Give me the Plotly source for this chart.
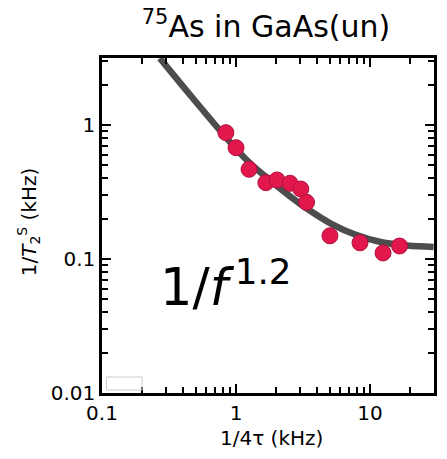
import plotly.graph_objects as go

# measured data (1/4tau in kHz, 1/T2^S in kHz)
freq_khz = [0.84, 1.00, 1.25, 1.67, 2.02, 2.53, 3.04, 3.36, 5.02, 8.41, 12.5, 16.6]
rate_khz = [0.877, 0.677, 0.467, 0.371, 0.389, 0.367, 0.333, 0.265, 0.149, 0.132, 0.111, 0.125]

# fitted 1/f^1.2 curve
fit_x = [0.270, 0.402, 0.564, 0.793, 1.18, 1.66, 2.46, 3.46, 5.14, 7.64, 12.0, 18.9, 29.8]
fit_y = [3.15, 1.94, 1.294, 0.865, 0.558, 0.412, 0.300, 0.234, 0.183, 0.153, 0.134, 0.126, 0.123]

x_minor = [m * d for d in (0.1, 1, 10) for m in range(2, 10)]
y_minor = [m * d for d in (0.01, 0.1, 1) for m in range(2, 10)]

FONT = "DejaVu Sans"

fig = go.Figure()
fig.add_trace(go.Scatter(x=fit_x, y=fit_y, mode="lines", line=dict(color="#4d4d4d", width=6.5, shape="spline"),
                         showlegend=False, hoverinfo="skip"))
fig.add_trace(go.Scatter(x=freq_khz, y=rate_khz, mode="markers",
                         marker=dict(size=16, color="#E2184C", line=dict(color="#B01040", width=1)),
                         showlegend=False))

axis_common = dict(
    type="log", dtick=1, tickformat="~g",
    showline=True, linecolor="black", linewidth=2.5, mirror="ticks",
    ticks="inside", ticklen=9, tickwidth=2, tickcolor="black",
    gridcolor="rgba(0,0,0,0)",
    tickfont=dict(family=FONT, size=20, color="black"),
)

fig.update_layout(
    xaxis=dict(range=[-1, 1.477],
               minor=dict(tickvals=x_minor, ticks="inside", ticklen=6, tickwidth=2, tickcolor="black"),
               **axis_common),
    yaxis=dict(range=[-2, 0.5],
               minor=dict(tickvals=y_minor, ticks="inside", ticklen=6, tickwidth=2, tickcolor="black"),
               **axis_common),
    width=447, height=459,
    margin=dict(l=101.5, r=10, t=58, b=66),
    plot_bgcolor="white", paper_bgcolor="white",
    title=dict(text="<sup>75</sup>As in GaAs(un)", x=0.595, xanchor="center", y=1 - 26 / 459, yanchor="middle",
               font=dict(family=FONT, size=30, color="black")),
    annotations=[
        dict(text="1/4τ (kHz)", xref="paper", yref="paper", x=(273 - 101.5) / 335.5, y=-(438 - 393) / 335,
             xanchor="center", yanchor="middle", showarrow=False, font=dict(family=FONT, size=20, color="black")),
        dict(text="1/<i>T</i><sub>2</sub><sup>S</sup> (kHz)", xref="paper", yref="paper",
             x=-(101.5 - 28) / 335.5, y=(393 - 222) / 335, textangle=-90,
             xanchor="center", yanchor="middle", showarrow=False, font=dict(family=FONT, size=20, color="black")),
        dict(text="1/<i>f</i><sup>\u20091.2</sup>", xref="paper", yref="paper",
             x=(158 - 101.5) / 335.5, y=(393 - 284) / 335, xanchor="left", yanchor="middle",
             showarrow=False, font=dict(family=FONT, size=51, color="black")),
    ],
    shapes=[
        dict(type="rect", xref="paper", yref="paper",
             x0=(106 - 101.5) / 335.5, x1=(142 - 101.5) / 335.5,
             y0=(393 - 390) / 335, y1=(393 - 377) / 335,
             line=dict(color="#cccccc", width=1), fillcolor="rgba(255,255,255,0)"),
    ],
)

fig.write_html("out.html")
